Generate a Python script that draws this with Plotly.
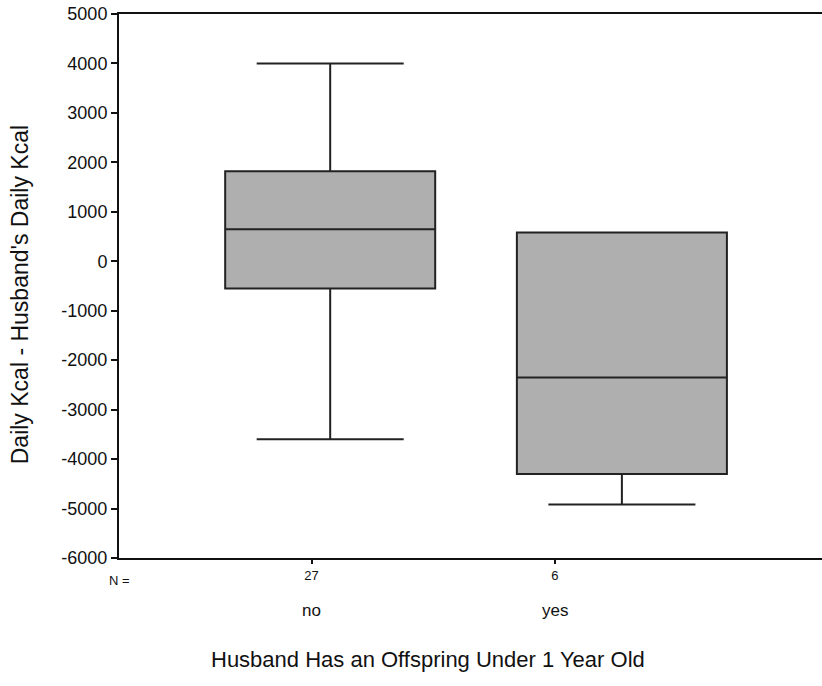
import plotly.graph_objects as go

categories = ["no", "yes"]
n_counts = [27, 6]
lower_whisker = [-3600, -4920]
q1 = [-550, -4300]
median = [650, -2350]
q3 = [1820, 580]
upper_whisker = [4000, 580]
ytick_values = [5000, 4000, 3000, 2000, 1000, 0, -1000, -2000, -3000, -4000, -5000, -6000]
ytick_labels = ["5000", "4000", "3000", "2000", "1000", "0", "-1000", "-2000",
                "-3000", "-4000", "-5000", "-6000"]

FONT = "Liberation Sans, Arial, sans-serif"

fig = go.Figure()
for i, c in enumerate(categories):
    fig.add_trace(go.Box(
        x=[c], q1=[q1[i]], median=[median[i]], q3=[q3[i]],
        lowerfence=[lower_whisker[i]], upperfence=[upper_whisker[i]],
        fillcolor="#afafaf", line=dict(color="#222222", width=2),
        width=0.72, whiskerwidth=0.7, boxpoints=False, showlegend=False,
        hoverinfo="skip",
    ))

# invisible trace to hold the count axis
fig.add_trace(go.Scatter(x=[0, 1], y=[0, 0], xaxis="x2", mode="markers",
                         marker=dict(opacity=0), showlegend=False, hoverinfo="skip"))

fig.update_layout(
    width=822, height=686,
    margin=dict(l=119, r=0, t=14, b=128, autoexpand=False),
    paper_bgcolor="white", plot_bgcolor="white",
    font=dict(family=FONT, color="#111111"),
    xaxis=dict(type="category", range=[-0.724, 1.686], showticklabels=False,
               ticks="", showline=True, mirror=True, linecolor="#111111",
               linewidth=2, showgrid=False, zeroline=False, automargin=False),
    xaxis2=dict(overlaying="x", side="bottom", range=[-0.792, 2.099],
                tickvals=[0, 1], ticktext=[str(n) for n in n_counts],
                ticks="outside", ticklen=5, tickwidth=1.5, tickcolor="#111111",
                tickfont=dict(size=13, family=FONT, color="#111111"), showline=False,
                showgrid=False, zeroline=False, automargin=False),
    yaxis=dict(range=[-6000, 5000], tickvals=ytick_values, ticktext=ytick_labels,
               ticks="outside", ticklen=6, ticklabeloverflow="allow",
               tickwidth=1.5, tickcolor="#111111", showline=True,
               linecolor="#111111", linewidth=2, showgrid=False, zeroline=False,
               tickfont=dict(size=18, family=FONT, color="#111111"), automargin=False),
)

annotations = [
    dict(text="N =", xref="paper", yref="paper", x=(132 - 119) / 703, y=-0.024,
         xanchor="right", yanchor="top", showarrow=False,
         font=dict(size=13, color="#111111")),
    dict(text="Husband Has an Offspring Under 1 Year Old", xref="paper",
         yref="paper", x=(428 - 119) / 703, y=-0.16, xanchor="center",
         yanchor="top", showarrow=False, font=dict(size=22, color="#111111")),
    dict(text="Daily Kcal - Husband's Daily Kcal", xref="paper", yref="paper",
         x=(20 - 119) / 703, y=0.483, xanchor="center", yanchor="middle",
         textangle=-90, showarrow=False, font=dict(size=23, color="#111111")),
]
for i, c in enumerate(categories):
    annotations.append(dict(text=c, xref="x2", yref="paper", x=i, y=-0.076,
                            xanchor="center", yanchor="top", showarrow=False,
                            font=dict(size=17, color="#111111")))
fig.update_layout(annotations=annotations)

fig.write_html("out.html", config={"displayModeBar": False},
               post_script="document.body.style.margin='0';")
